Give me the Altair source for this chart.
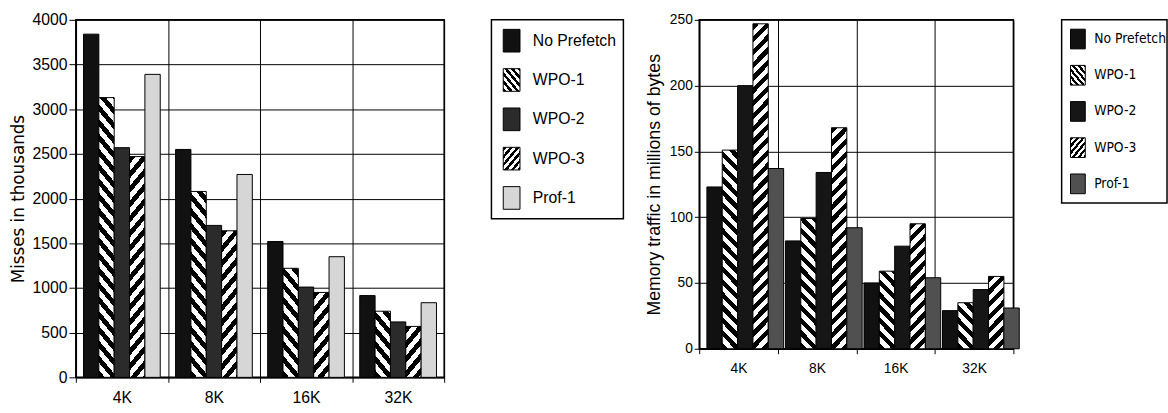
import altair as alt
import pandas as pd

sizes = ["4K", "8K", "16K", "32K"]
series = ["No Prefetch", "WPO-1", "WPO-2", "WPO-3", "Prof-1"]

# Left chart: misses in thousands
misses_no_prefetch = [3840, 2550, 1520, 915]
misses_wpo1 = [3130, 2080, 1220, 740]
misses_wpo2 = [2570, 1700, 1010, 620]
misses_wpo3 = [2470, 1640, 950, 570]
misses_prof1 = [3390, 2270, 1350, 835]

# Right chart: memory traffic in millions of bytes
traffic_no_prefetch = [123, 82, 50, 29]
traffic_wpo1 = [151, 99, 59, 35]
traffic_wpo2 = [200, 134, 78, 45]
traffic_wpo3 = [247, 168, 95, 55]
traffic_prof1 = [137, 92, 54, 31]

misses_ticks = list(range(0, 4001, 500))
traffic_ticks = list(range(0, 251, 50))

LW, LH, LMAX = 374, 363, 4000
RW, RH, RMAX = 319, 334, 250


def frame(cols):
    rows = []
    for s, vals in zip(series, cols):
        for k, v in zip(sizes, vals):
            rows.append({"size": k, "series": s, "value": v})
    return pd.DataFrame(rows)


left_df = frame([misses_no_prefetch, misses_wpo1, misses_wpo2, misses_wpo3, misses_prof1])
right_df = frame([traffic_no_prefetch, traffic_wpo1, traffic_wpo2, traffic_wpo3, traffic_prof1])


def hatch(w, h, direction, period, frac=0.5, slope=1.2):
    sw = slope * w
    denom = sw * sw + h * h
    dmax = sw + h
    sc = sw / denom
    stops = []
    k = 0
    while k * period < dmax:
        d0 = k * period
        d1 = min(d0 + frac * period, dmax)
        d2 = min(d0 + period, dmax)
        for d, c in ((d0, "black"), (d1, "black"), (d1, "white"), (d2, "white")):
            stops.append({"offset": round(min(d * sc, 1.0), 5), "color": c})
        k += 1
    if direction == "back":
        x1, y1, x2, y2 = 0, 1, 1, 1 - h / sw
    else:
        x1, y1, x2, y2 = 0, 0, 1, h / sw
    return {"gradient": "linear", "x1": x1, "y1": y1, "x2": x2, "y2": y2, "stops": stops}


def bar_fill(df, step, plot_h, vmax, period, solid):
    conds = []
    for _, r in df.iterrows():
        if r["series"] in ("WPO-1", "WPO-3"):
            h = r["value"] / vmax * plot_h
            g = hatch(step, h, "back" if r["series"] == "WPO-1" else "fwd", period)
            conds.append({"test": f"datum.series === '{r['series']}' && datum.size === '{r['size']}'",
                          "value": g})
    return alt.Fill("series:N", scale=alt.Scale(domain=series, range=solid), legend=None,
                    condition=conds)


def bars(df, W, H, vmax, ticks, title, po, period, solid, lab_font, lab_size,
         title_font, title_size, title_pad, ytick, xlab_pad):
    step = W / 4 / (5 + 2 * po)
    return alt.Chart(df).mark_bar(stroke="black", strokeWidth=1).encode(
        x=alt.X("size:N", sort=sizes, title=None,
                scale=alt.Scale(paddingInner=0, paddingOuter=0),
                axis=alt.Axis(tickBand="extent", grid=True, labelAngle=0, labelFont=lab_font,
                              labelFontSize=lab_size, tickSize=5, labelPadding=xlab_pad)),
        xOffset=alt.XOffset("series:N", sort=series,
                            scale=alt.Scale(paddingInner=0, paddingOuter=po)),
        y=alt.Y("value:Q", title=title, scale=alt.Scale(domain=[0, vmax], nice=False),
                axis=alt.Axis(values=ticks, format="d", grid=True, labelFont=lab_font,
                              labelFontSize=lab_size, titleFont=title_font,
                              titleFontSize=title_size, titlePadding=title_pad,
                              tickSize=ytick, labelPadding=2)),
        fill=bar_fill(df, step, H, vmax, period, solid),
    ).properties(width=W, height=H)


def legend(W, H, sx, sw, sh, tx, font, fsize, solid, period):
    ldf = pd.DataFrame({"series": series})
    conds = [
        {"test": "datum.series === 'WPO-1'", "value": hatch(sw, sh, "back", period)},
        {"test": "datum.series === 'WPO-3'", "value": hatch(sw, sh, "fwd", period)},
    ]
    base = alt.Chart(ldf).encode(
        y=alt.Y("series:N", sort=series, axis=None,
                scale=alt.Scale(paddingInner=0, paddingOuter=0.03)))
    sw_mark = base.mark_bar(size=sh, stroke="black", strokeWidth=1).encode(
        x=alt.value(sx), x2=alt.value(sx + sw),
        fill=alt.Fill("series:N", scale=alt.Scale(domain=series, range=solid), legend=None,
                      condition=conds))
    txt = base.mark_text(align="left", baseline="middle", font=font, fontSize=fsize,
                         color="black").encode(x=alt.value(tx), text="series:N")
    return alt.layer(sw_mark, txt).properties(width=W, height=H)


left_solid = ["#111111", "white", "#2b2b2b", "white", "#d6d6d6"]
right_solid = ["#111111", "white", "#161616", "white", "#505050"]

NARROW = "DejaVu Sans Condensed, Liberation Sans Narrow, Liberation Sans"

left_chart = bars(left_df, LW, LH, LMAX, misses_ticks, "Misses in thousands", 0.5, 15,
                  left_solid, "Liberation Sans", 16, "DejaVu Sans", 17, 5, 7, 8)
right_chart = bars(right_df, RW, RH, RMAX, traffic_ticks, "Memory traffic in millions of bytes",
                   0.476, 13, right_solid, "Liberation Sans", 14,
                   "Liberation Sans", 18, 6, 5, 8)

left_leg = legend(134, 202, 12, 17, 23, 42, "Liberation Sans", 16, left_solid, 8)
right_leg = legend(107, 186, 9, 15, 20, 33, NARROW, 14, right_solid, 7)

chart = alt.hconcat(
    alt.hconcat(left_chart, left_leg, spacing=45).resolve_scale(fill="independent"),
    alt.hconcat(right_chart, right_leg, spacing=40).resolve_scale(fill="independent"),
    spacing=20,
).resolve_scale(
    fill="independent"
).properties(
    padding={"left": 8, "top": 8, "right": 0, "bottom": 0},
    background="white",
).configure_view(
    stroke="black", strokeWidth=1.5
).configure_axis(
    domainColor="black", domainWidth=1.5, tickColor="black", tickWidth=1,
    gridColor="black", gridOpacity=1, gridWidth=1, labelColor="black",
    titleColor="black", titleFontWeight="normal",
)

chart.save("out.html", embed_options={"renderer": "svg", "actions": False})
